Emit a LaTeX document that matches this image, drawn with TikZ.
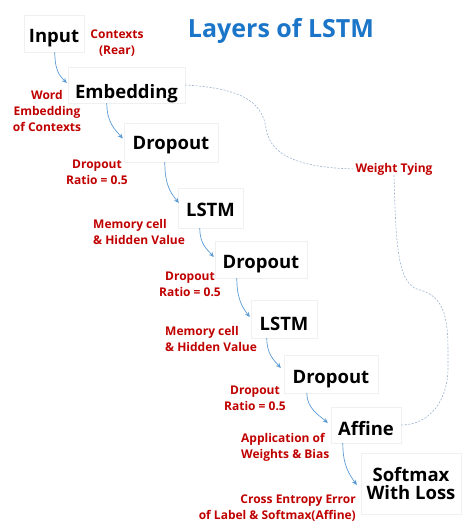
\documentclass[tikz,border=0pt]{standalone}
\usepackage{fontspec}
\setmainfont{Open Sans}
\usetikzlibrary{arrows.meta,calc,shadows}
\definecolor{lblred}{HTML}{C00000}
\definecolor{arrblue}{HTML}{5B9BD5}
\definecolor{titleblue}{HTML}{1B75C8}
\definecolor{tieblue}{HTML}{9DB3CF}
\begin{document}
\begin{tikzpicture}[x=1pt,y=-1pt,
  layer/.style={fill=white, draw=black!6, inner sep=0pt,
    font=\bfseries\fontsize{18.5}{18.5}\selectfont, align=center,
    drop shadow={shadow xshift=1.3pt, shadow yshift=-1.3pt, opacity=0.55, fill=black!55}},
  capoff/.style={text height=13.2pt+2*#1 pt, text depth=0pt},
  lbl/.style={text=lblred, font=\bfseries\fontsize{12}{16}\selectfont, inner sep=0pt},
  flow/.style={draw=arrblue, line width=0.7pt, -{Stealth[length=5pt,width=4.5pt]}},
  tie/.style={draw=tieblue, line width=0.6pt, dash pattern=on 2pt off 1.5pt}]
\useasboundingbox (0,0) rectangle (462,522);

% title
\node[text=titleblue, font=\bfseries\fontsize{25}{30}\selectfont, anchor=base] (title) at (281,37) {Layers of LSTM};

% layer boxes
\node[layer, capoff=2, minimum width=60, minimum height=37] (input) at (54,33.5) {Input};
\node[layer, capoff=6.5, minimum width=117, minimum height=36] (embed) at (126.5,85) {Embedding};
\node[layer, capoff=0.5, minimum width=94, minimum height=39] (drop1) at (171,142.5) {Dropout};
\node[layer, capoff=2, minimum width=65, minimum height=40] (lstm1) at (210.5,208) {LSTM};
\node[layer, capoff=2, minimum width=92, minimum height=37] (drop2) at (261,259.5) {Dropout};
\node[layer, capoff=4.5, minimum width=66, minimum height=38] (lstm2) at (284,319) {LSTM};
\node[layer, capoff=2.5, minimum width=94, minimum height=38] (drop3) at (331,374) {Dropout};
\node[layer, capoff=3.5, minimum width=70, minimum height=36] (affine) at (366,425) {Affine};
\node[layer, minimum width=100, minimum height=61] (softmax) at (411,483.5) {Softmax\\With Loss};

% labels
\node[lbl, align=center] (ctx) at (117,43) {Contexts\\(Rear)};
\node[lbl, align=center] (wemb) at (47,111) {Word\\Embedding\\of Contexts};
\node[lbl, align=center] (dr1) at (97,172.5) {Dropout\\Ratio = 0.5};
\node[lbl, align=left, anchor=west] (mem1) at (93,232) {Memory cell\\\& Hidden Value};
\node[lbl, align=center] (dr2) at (190,284.5) {Dropout\\Ratio = 0.5};
\node[lbl, align=left, anchor=west] (mem2) at (165,339) {Memory cell\\\& Hidden Value};
\node[lbl, align=center] (dr3) at (255,398) {Dropout\\Ratio = 0.5};
\node[lbl, align=left, anchor=west] (app) at (241,447.5) {Application of\\Weights \& Bias};
\node[lbl, align=right, anchor=east] (ce) at (356,508) {Cross Entropy Error\\of Label \& Softmax(Affine)};
\node[lbl] (wt) at (394,169) {Weight Tying};

% flow arrows
\draw[flow] ($(input.south west)+(31,0)$) .. controls +(0,17) and +(-8,-8) .. ($(embed.west)+(-1,-2)$);
\draw[flow] ($(embed.south west)+(39,0)$) .. controls +(0,19) and +(-8,-9) .. ($(drop1.west)+(-1,-4)$);
\draw[flow] ($(drop1.south west)+(41,0)$) .. controls +(0,23) and +(-8,-10) .. ($(lstm1.west)+(1,-5)$);
\draw[flow] ($(lstm1.south west)+(22,0)$) .. controls +(0,16) and +(-7,-8) .. ($(drop2.west)+(-1,-2.5)$);
\draw[flow] ($(drop2.south west)+(22,0)$) .. controls +(0,21) and +(-7,-9) .. ($(lstm2.west)+(-1,-2)$);
\draw[flow] ($(lstm2.south west)+(16,0)$) .. controls +(0,16) and +(-7,-8) .. ($(drop3.west)+(-3,-6)$);
\draw[flow] ($(drop3.south west)+(23,0)$) .. controls +(0,15) and +(-9,-8) .. ($(affine.west)+(-3,-2)$);
\draw[flow] ($(affine.south west)+(12,0)$) .. controls +(0,23) and +(-7,-10) .. ($(softmax.west)+(-4,1.5)$);

% weight tying
\draw[tie] (embed.east) .. controls (238,88) and (262,100) .. (266,128)
  .. controls (270,160) and (310,168) .. (wt.west);
\draw[tie] (wt.south) .. controls (396,250) and (398,285) .. (420,290)
  .. controls (450,298) and (448,330) .. (448,368)
  .. controls (448,400) and (430,425) .. (affine.east);
\end{tikzpicture}
\end{document}
